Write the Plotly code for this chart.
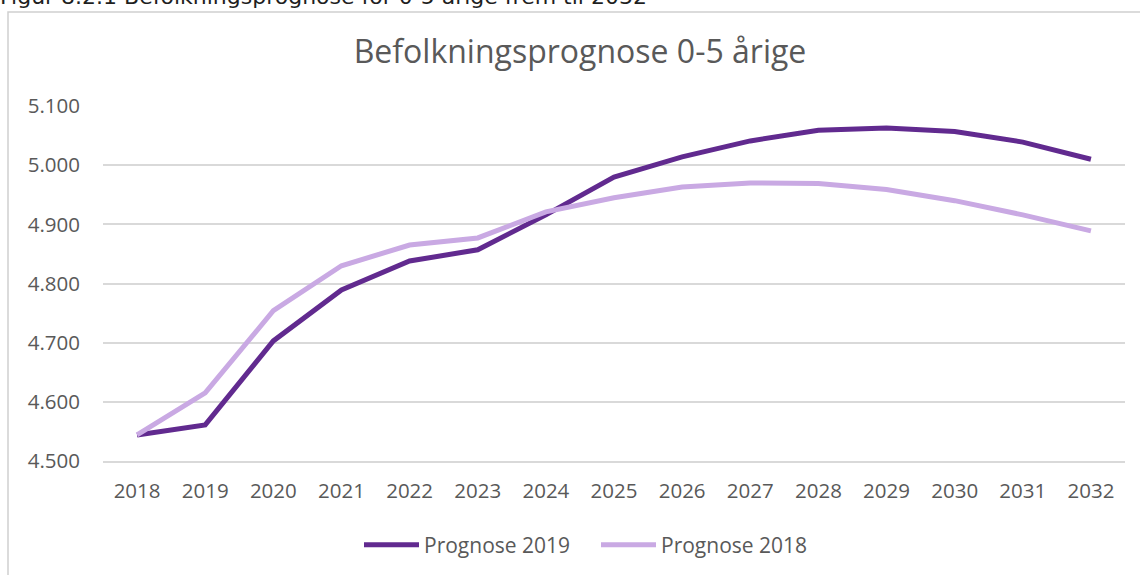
import plotly.graph_objects as go

years = [str(y) for y in range(2018, 2033)]
prognose_2019 = [4544, 4561, 4703, 4789, 4838, 4857, 4916, 4980, 5014, 5041, 5059, 5063, 5057, 5039, 5010]
prognose_2018 = [4544, 4615, 4754, 4830, 4865, 4877, 4921, 4945, 4963, 4970, 4969, 4959, 4940, 4916, 4889]
y_ticks = [4500, 4600, 4700, 4800, 4900, 5000, 5100]

FONT = "Open Sans"
GREY = "#595959"
W, H = 1140, 575
L, T, R, B = 103, 106, 15, 114
PW, PH = W - L - R, H - T - B

fig = go.Figure()
fig.add_trace(go.Scatter(x=years, y=prognose_2019, mode="lines", name="Prognose 2019",
                         line=dict(color="#612A8F", width=5)))
fig.add_trace(go.Scatter(x=years, y=prognose_2018, mode="lines", name="Prognose 2018",
                         line=dict(color="#C9A9E3", width=5)))

fig.update_layout(
    width=W, height=H,
    margin=dict(l=L, r=R, t=T, b=B, autoexpand=False),
    paper_bgcolor="white", plot_bgcolor="white",
    separators=",.",
    font=dict(family=FONT, color=GREY, size=20.5),
    title=dict(text="Befolkningsprognose 0-5 årige", x=580 / W, xanchor="center",
               y=1 - 52 / H, yanchor="middle",
               font=dict(family=FONT, size=32, color=GREY)),
    showlegend=True,
    legend=dict(orientation="h", x=(359 - L) / PW, xanchor="left",
                y=-(545 - (T + PH)) / PH, yanchor="middle",
                font=dict(family=FONT, size=21, color=GREY),
                itemwidth=55, entrywidth=167, traceorder="normal"),
    xaxis=dict(type="category", showgrid=False, showline=True, linecolor="#d9d9d9",
               linewidth=1.5, ticks="", tickfont=dict(size=20.5, color=GREY),
               range=[-0.5, len(years) - 0.5], automargin=False, ticklabelstandoff=11),
    yaxis=dict(range=[4500, 5100], tickvals=y_ticks, tickformat=",.0f",
               showgrid=True, gridcolor="#d9d9d9", gridwidth=1.5, zeroline=False,
               showline=False, ticks="", ticklabelstandoff=22, automargin=False,
               tickfont=dict(size=20.5, color=GREY)),
)

# outer chart border (partially visible frame)
fig.add_shape(type="rect", xref="paper", yref="paper",
              x0=-(L - 8) / PW, x1=1.5, y0=-1.0, y1=1 + (T - 12) / PH,
              line=dict(color="#d0d0d0", width=1.5), fillcolor="rgba(0,0,0,0)", layer="below")

# caption, cut off at the top of the image
fig.add_annotation(text="Figur 8.2.1 Befolkningsprognose for 0-5 årige frem til 2032",
                   xref="paper", yref="paper", x=-(L + 2) / PW, xanchor="left",
                   y=1 + (T - 11) / PH, yanchor="bottom", showarrow=False,
                   font=dict(family="DejaVu Sans", size=22, color="#1f1f1f"))

fig.write_html("out.html", config={"displayModeBar": False},
               post_script="document.body.style.margin='0';document.body.style.overflow='hidden';")
